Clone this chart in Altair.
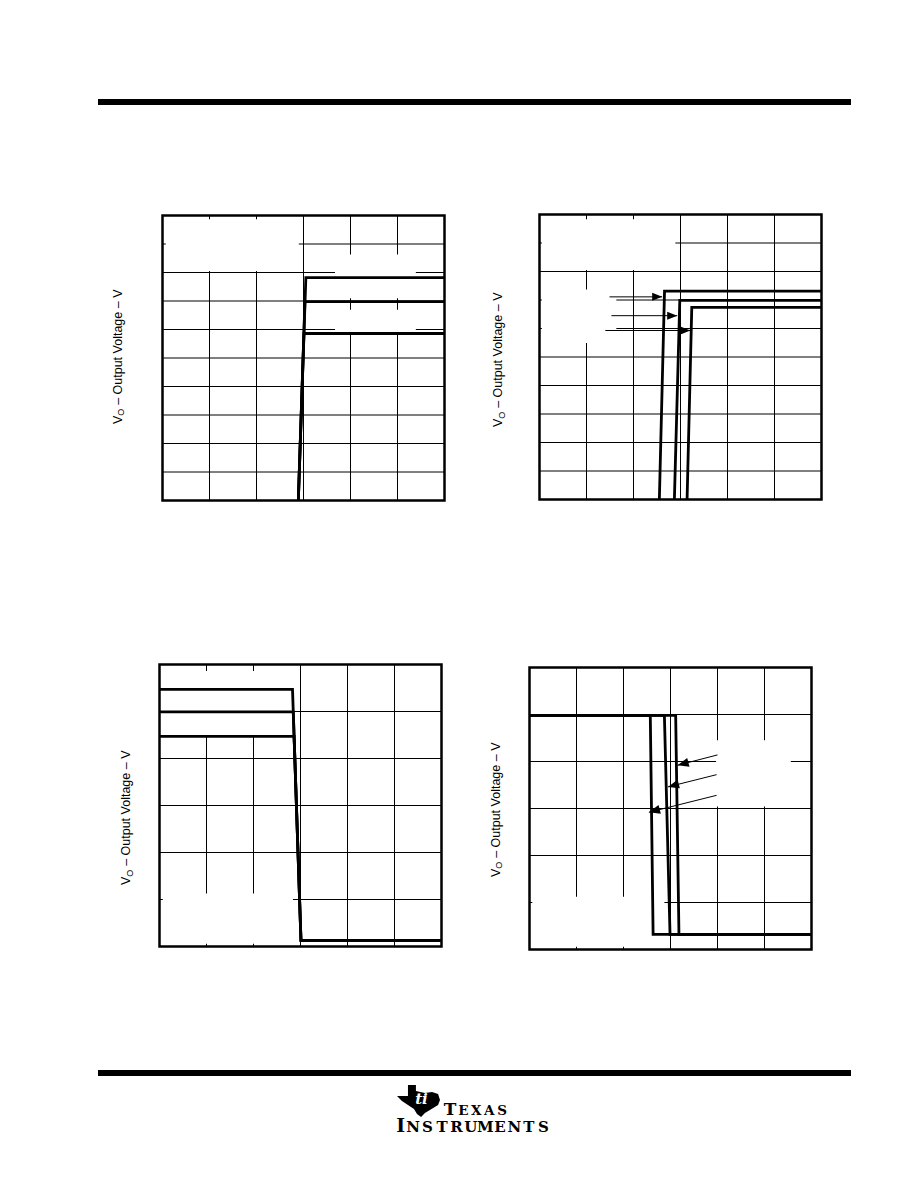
import altair as alt
import pandas as pd

# ---------------- data ----------------
# Top-left panel: 6 x 10 grid, three curves sharing one rising edge
tl_curve_x = [[2.89, 3.05, 6.0], [2.89, 3.03, 6.0], [2.89, 3.01, 6.0]]
tl_curve_y = [[0.0, 7.82, 7.82], [0.0, 6.98, 6.98], [0.0, 5.86, 5.86]]
tl_mask_x0 = [0.07, 3.67, 3.67]
tl_mask_x1 = [2.90, 5.39, 5.39]
tl_mask_y0 = [8.05, 7.10, 5.87]
tl_mask_y1 = [9.87, 8.63, 6.69]

# Top-right panel: 6 x 10 grid, three shifted rising curves with pointers
tr_curve_x = [[2.55, 2.66, 6.0], [2.87, 2.985, 6.0], [3.14, 3.24, 6.0]]
tr_curve_y = [[0.0, 7.31, 7.31], [0.0, 6.99, 6.99], [0.0, 6.74, 6.74]]
tr_arrow_x0 = [1.49, 1.53, 1.40]
tr_arrow_y0 = [7.11, 6.45, 5.93]
tr_arrow_x1 = [2.61, 2.93, 3.21]
tr_arrow_y1 = [7.11, 6.45, 5.93]
tr_mask_x0 = [0.05, 0.05]
tr_mask_x1 = [2.89, 1.635]
tr_mask_y0 = [8.05, 5.49]
tr_mask_y1 = [9.83, 7.37]

# Bottom-left panel: 6 x 6 grid, three curves sharing one falling edge
bl_curve_x = [[0.0, 2.83, 3.01, 6.0], [0.0, 2.846, 3.01, 6.0], [0.0, 2.864, 3.01, 6.0]]
bl_curve_y = [[5.47, 5.47, 0.13, 0.13], [4.99, 4.99, 0.13, 0.13], [4.47, 4.47, 0.13, 0.13]]
bl_mask_x0 = [0.07, 0.07]
bl_mask_x1 = [2.80, 2.84]
bl_mask_y0 = [4.47, 0.06]
bl_mask_y1 = [5.86, 1.13]

# Bottom-right panel: 6 x 6 grid, three shifted falling curves with pointers
br_curve_x = [[0.0, 2.57, 2.63, 6.0], [0.0, 2.87, 2.99, 6.0], [0.0, 3.11, 3.18, 6.0]]
br_curve_y = [[4.98, 4.98, 0.32, 0.32], [4.98, 4.98, 0.32, 0.32], [4.98, 4.98, 0.32, 0.32]]
br_arrow_x0 = [4.00, 3.98, 3.98]
br_arrow_y0 = [4.14, 3.72, 3.28]
br_arrow_x1 = [3.15, 2.945, 2.54]
br_arrow_y1 = [3.92, 3.46, 2.92]
br_mask_x0 = [0.06, 3.97]
br_mask_x1 = [2.87, 5.56]
br_mask_y0 = [0.06, 3.04]
br_mask_y1 = [1.12, 4.45]

# Texts
title_v = "V"
title_sub = "O"
title_rest = "\u2013 Output Voltage \u2013 V"
logo_big_1 = "T"
logo_small_1 = ["E", "X", "A", "S"]
logo_big_2 = "I"
logo_small_2 = ["N", "S", "T", "R", "U", "M", "E", "N", "T", "S"]
logo_ti = "ti"

FONT = "Liberation Sans"
SERIF = "DejaVu Serif"
ARROW_PATH = "M0,0L-1,-0.4L-1,0.4Z"
TEXAS_PATH = ("M-0.49,-0.74L-0.12,-0.74L-0.12,-0.47L0.30,-0.37L0.63,-0.42L0.91,-0.33"
              "L1,-0.05L0.91,0.19L0.53,0.42L0.30,0.56L0.12,0.74L-0.07,0.6L-0.21,0.37"
              "L-0.49,0.19L-0.77,0L-1,-0.23L-0.49,-0.23Z")


def curves_frame(cx, cy):
    rows = []
    for s, (xs, ys) in enumerate(zip(cx, cy)):
        for i, (xv, yv) in enumerate(zip(xs, ys)):
            rows.append({"s": s, "i": i, "x": xv, "y": yv})
    return pd.DataFrame(rows)


def make_panel(x_range, y_range, n_x, n_y, cx, cy, masks,
               arrows=None, arrow_size=400, arrow_angle=0):
    sx = alt.Scale(domain=[0, n_x], range=x_range, nice=False, zero=False)
    sy = alt.Scale(domain=[0, n_y], range=y_range, nice=False, zero=False)

    def X(f):
        return alt.X(f, type="quantitative", scale=sx, axis=None)

    def Y(f):
        return alt.Y(f, type="quantitative", scale=sy, axis=None)

    vgrid = pd.DataFrame({"x": list(range(1, n_x)), "y": 0, "y2": n_y})
    hgrid = pd.DataFrame({"y": list(range(1, n_y)), "x": 0, "x2": n_x})
    frame = pd.DataFrame({"x": [0], "x2": [n_x], "y": [0], "y2": [n_y]})
    mask_df = pd.DataFrame({"x": masks[0], "x2": masks[1], "y": masks[2], "y2": masks[3]})
    curves = curves_frame(cx, cy)

    layers = [
        alt.Chart(vgrid).mark_rule(color="black", strokeWidth=1).encode(
            x=X("x"), y=Y("y"), y2="y2:Q"),
        alt.Chart(hgrid).mark_rule(color="black", strokeWidth=1).encode(
            x=X("x"), x2="x2:Q", y=Y("y")),
        alt.Chart(mask_df).mark_rect(color="white").encode(
            x=X("x"), x2="x2:Q", y=Y("y"), y2="y2:Q"),
        alt.Chart(curves).mark_line(color="black", strokeWidth=2.8, strokeJoin="miter").encode(
            x=X("x"), y=Y("y"), detail="s:N", order="i:Q"),
    ]
    if arrows is not None:
        adf = pd.DataFrame({"x": arrows[0], "y": arrows[1], "x2": arrows[2], "y2": arrows[3]})
        layers.append(alt.Chart(adf).mark_rule(color="black", strokeWidth=1).encode(
            x=X("x"), y=Y("y"), x2="x2:Q", y2="y2:Q"))
        layers.append(alt.Chart(adf).mark_point(
            shape=ARROW_PATH, filled=True, size=arrow_size, color="black",
            opacity=1, angle=arrow_angle).encode(x=X("x2"), y=Y("y2")))
    layers.append(alt.Chart(frame).mark_rect(
        fillOpacity=0, stroke="black", strokeWidth=2.5).encode(
        x=X("x"), x2="x2:Q", y=Y("y"), y2="y2:Q"))
    return alt.layer(*layers)


one = pd.DataFrame({"k": [0]})


def y_title(base_x, bottom_y):
    fs, fss = 12.5, 9
    v_adv = 0.667 * fs
    o_adv = 0.778 * fss
    gap = 3.8
    common = dict(angle=270, align="left", baseline="alphabetic", font=FONT, color="black")
    return [
        alt.Chart(one).mark_text(text=title_v, fontSize=fs, **common).encode(
            x=alt.value(base_x), y=alt.value(bottom_y)),
        alt.Chart(one).mark_text(text=title_sub, fontSize=fss, **common).encode(
            x=alt.value(base_x + 2.5), y=alt.value(bottom_y - v_adv)),
        alt.Chart(one).mark_text(text=title_rest, fontSize=fs, **common).encode(
            x=alt.value(base_x), y=alt.value(bottom_y - v_adv - o_adv - gap)),
    ]


panel_tl = make_panel([154.5, 436.5], [492.5, 207.5], 6, 10, tl_curve_x, tl_curve_y,
                      (tl_mask_x0, tl_mask_x1, tl_mask_y0, tl_mask_y1))
panel_tr = make_panel([531.5, 813.5], [491.5, 206.5], 6, 10, tr_curve_x, tr_curve_y,
                      (tr_mask_x0, tr_mask_x1, tr_mask_y0, tr_mask_y1),
                      arrows=(tr_arrow_x0, tr_arrow_y0, tr_arrow_x1, tr_arrow_y1),
                      arrow_size=400, arrow_angle=0)
panel_bl = make_panel([151.5, 433.5], [938.5, 656.5], 6, 6, bl_curve_x, bl_curve_y,
                      (bl_mask_x0, bl_mask_x1, bl_mask_y0, bl_mask_y1))
panel_br = make_panel([521.5, 803.5], [941.5, 659.5], 6, 6, br_curve_x, br_curve_y,
                      (br_mask_x0, br_mask_x1, br_mask_y0, br_mask_y1),
                      arrows=(br_arrow_x0, br_arrow_y0, br_arrow_x1, br_arrow_y1),
                      arrow_size=500, arrow_angle=165)

# page decorations
header = alt.Chart(one).mark_rule(color="black", strokeWidth=6).encode(
    x=alt.value(90), x2=alt.value(843), y=alt.value(94))
footer = alt.Chart(one).mark_rule(color="black", strokeWidth=6).encode(
    x=alt.value(90), x2=alt.value(843), y=alt.value(1065))

logo_icon = alt.Chart(one).mark_point(
    shape=TEXAS_PATH, filled=True, size=1849, color="black", opacity=1).encode(
    x=alt.value(410.5), y=alt.value(1093))
logo_icon_ti = alt.Chart(one).mark_text(
    text=logo_ti, font="DejaVu Serif", fontSize=15, fontStyle="italic", fontWeight="bold",
    color="white", align="center", baseline="middle").encode(
    x=alt.value(413.5), y=alt.value(1091))

big1 = alt.Chart(one).mark_text(
    text=logo_big_1, font=SERIF, fontSize=17, fontWeight="bold", color="black",
    align="center", baseline="alphabetic").encode(x=alt.value(442), y=alt.value(1107))
small1_df = pd.DataFrame({"i": list(range(len(logo_small_1))), "t": logo_small_1})
small1 = alt.Chart(small1_df).mark_text(
    font=SERIF, fontSize=13.5, fontWeight="bold", color="black",
    align="center", baseline="alphabetic").encode(
    x=alt.X("i:Q", scale=alt.Scale(domain=[0, len(logo_small_1) - 1], range=[455.3, 494.2]), axis=None),
    y=alt.value(1107), text="t:N")
big2 = alt.Chart(one).mark_text(
    text=logo_big_2, font=SERIF, fontSize=19, fontWeight="bold", color="black",
    align="center", baseline="alphabetic").encode(x=alt.value(392.8), y=alt.value(1124))
small2_df = pd.DataFrame({"i": list(range(len(logo_small_2))), "t": logo_small_2})
small2 = alt.Chart(small2_df).mark_text(
    font=SERIF, fontSize=15, fontWeight="bold", color="black",
    align="center", baseline="alphabetic").encode(
    x=alt.X("i:Q", scale=alt.Scale(domain=[0, len(logo_small_2) - 1], range=[405, 535.3]), axis=None),
    y=alt.value(1124), text="t:N")

titles = (y_title(113.5, 416) + y_title(494, 419) + y_title(122, 877) + y_title(491.5, 869))

chart = alt.layer(
    header, footer, panel_tl, panel_tr, panel_bl, panel_br,
    *titles, logo_icon, logo_icon_ti, big1, small1, big2, small2,
).resolve_scale(x="independent", y="independent").properties(
    width=880, height=1150, padding=0
).configure_view(strokeWidth=0)

chart.save("out.html", embed_options={"renderer": "svg", "actions": False})
